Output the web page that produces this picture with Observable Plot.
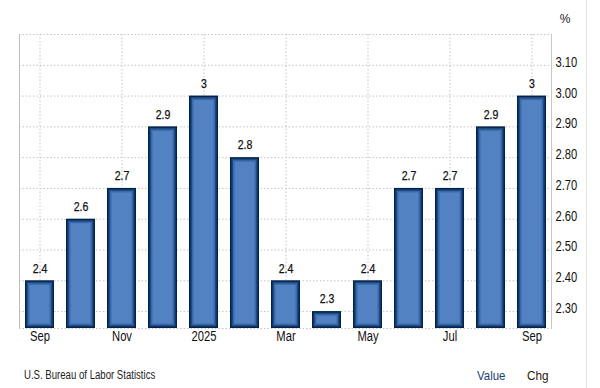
<!DOCTYPE html>
<html>
<head>
<meta charset="utf-8">
<script src="https://cdn.jsdelivr.net/npm/d3@7"></script>
<script src="https://cdn.jsdelivr.net/npm/@observablehq/plot@0.6"></script>
<style>
  html, body { margin: 0; padding: 0; background: #fff; }
  #wrap { position: relative; width: 600px; height: 388px; overflow: hidden;
          font-family: "Liberation Sans", Arial, sans-serif; }
  #vline { position: absolute; left: 586px; top: 0; width: 1px; height: 388px; background: #e4e4e4; }
  #footer { position: relative; height: 36px; font-size: 12px; color: #222; }
  #footer span { position: absolute; top: 16px; transform-origin: left center; white-space: nowrap; }
</style>
</head>
<body>
<div id="wrap">
  <div id="chart"></div>
  <div id="footer">
    <span style="left:24px; transform: scaleX(0.8);">U.S. Bureau of Labor Statistics</span>
    <span style="left:477px; color:#1b417c; font-size:13px; transform: scaleX(0.88);">Value</span>
    <span style="left:527px; color:#2a1a05; font-size:13px; transform: scaleX(0.9);">Chg</span>
  </div>
  <div id="vline"></div>
</div>
<script>
const months = ["2024-09","2024-10","2024-11","2024-12","2025-01","2025-02","2025-03","2025-04","2025-05","2025-06","2025-07","2025-08","2025-09"];
const values = [2.4, 2.6, 2.7, 2.9, 3.0, 2.8, 2.4, 2.3, 2.4, 2.7, 2.7, 2.9, 3.0];
const valueLabels = ["2.4","2.6","2.7","2.9","3","2.8","2.4","2.3","2.4","2.7","2.7","2.9","3"];
const tickMonths = ["2024-09","2024-11","2025-01","2025-03","2025-05","2025-07","2025-09"];
const tickLabels = ["Sep","Nov","2025","Mar","May","Jul","Sep"];
const yTicks = [2.3, 2.4, 2.5, 2.6, 2.7, 2.8, 2.9, 3.0, 3.1];
const yGrid = [2.3, 2.4, 2.5, 2.6, 2.7, 2.8, 2.9, 3.0, 3.1, 3.2];

const data = months.map((m, i) => ({month: m, value: values[i], label: valueLabels[i]}));
const tickMap = new Map(tickMonths.map((m, i) => [m, tickLabels[i]]));
const yMin = 2.245, yMax = 3.2;

const chart = Plot.plot({
  width: 600,
  height: 352,
  marginTop: 34,
  marginBottom: 24,
  marginLeft: 19,
  marginRight: 49,
  style: {fontFamily: '"Liberation Sans", Arial, sans-serif', background: "#fff", color: "#111"},
  x: {domain: months, range: [11.8, 558.4], padding: 0.3, label: null},
  y: {domain: [yMin, yMax], label: null},
  marks: [
    Plot.gridX(tickMonths, {stroke: "#c4c4c4", strokeOpacity: 1, strokeDasharray: "1.5,2"}),
    Plot.gridY(yGrid, {stroke: "#c4c4c4", strokeOpacity: 1, strokeDasharray: "1.5,2"}),
    Plot.frame({anchor: "left", stroke: "#bdbdbd"}),
    Plot.frame({anchor: "right", stroke: "#c8c8c8"}),
    Plot.ruleY([yMin], {stroke: "#c4c4c4", strokeDasharray: "1.5,2"}),
    Plot.barY(data, {x: "month", y1: yMin, y2: "value", fill: "#03224a"}),
    Plot.barY(data, {x: "month", y1: yMin, y2: "value", fill: "#1d4a84", inset: 1.5}),
    Plot.barY(data, {x: "month", y1: yMin, y2: "value", fill: "#3a69a8", inset: 3}),
    Plot.barY(data, {x: "month", y1: yMin, y2: "value", fill: "#5282c1", inset: 4.5}),
    Plot.text(data, {x: "month", y: "value", text: "label", dy: -12, fontSize: 12, fill: "#111", stroke: "#111", strokeWidth: 0.25, className: "narrowV"}),
    Plot.axisX(tickMonths, {tickSize: 0, tickPadding: 3, fontSize: 14, tickFormat: d => tickMap.get(d), fill: "#111", label: null, className: "narrow"}),
    Plot.axisY(yTicks, {anchor: "right", tickSize: 0, tickPadding: 4, dy: -3, fontSize: 14, tickFormat: d => d.toFixed(2), fill: "#111", label: null, className: "narrow"}),
    Plot.text(["%"], {frameAnchor: "top-right", dx: 19, dy: -20, fontSize: 12, fill: "#222"})
  ]
});
document.getElementById("chart").appendChild(chart);
// condense the narrow-font texts
function condense(sel, k) {
  chart.querySelectorAll(sel).forEach(t => {
    const L = t.getComputedTextLength();
    if (L > 0) {
      t.setAttribute("textLength", (L * k).toFixed(2));
      t.setAttribute("lengthAdjust", "spacingAndGlyphs");
    }
  });
}
condense(".narrow text", 0.8);
condense(".narrowV text", 0.88);
</script>
</body>
</html>
